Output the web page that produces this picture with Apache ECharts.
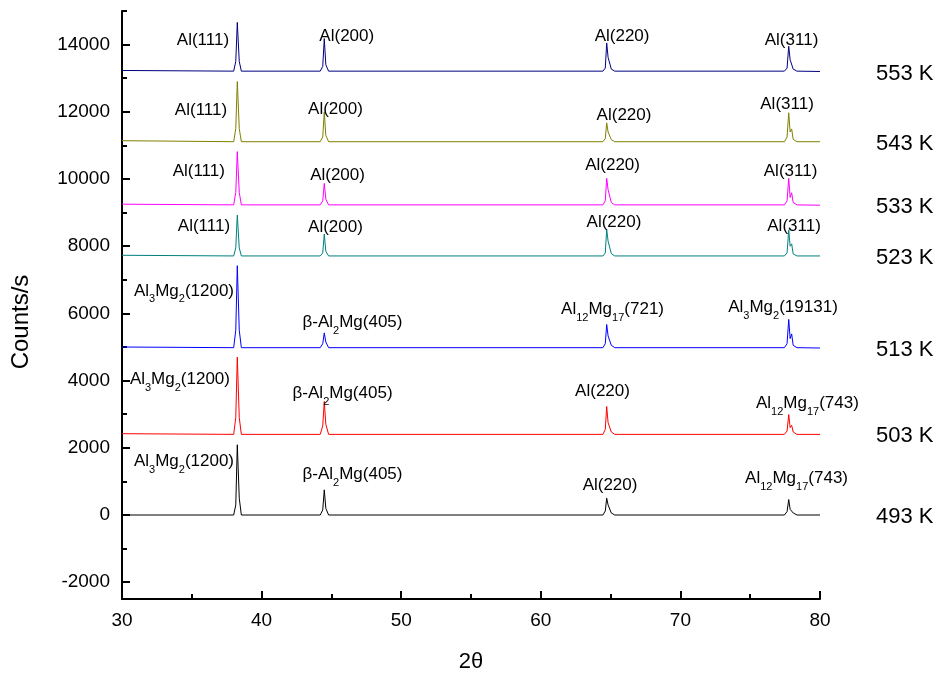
<!DOCTYPE html>
<html>
<head>
<meta charset="utf-8">
<script src="https://cdn.jsdelivr.net/npm/echarts@6/dist/echarts.min.js"></script>
<style>
  html, body { margin: 0; padding: 0; background: #fff; }
  #chart { width: 942px; height: 677px; }
</style>
</head>
<body>
<div id="chart"></div>
<script>
// 2theta positions shared by every pattern
var twoTheta = [30, 38.0, 38.15, 38.26, 38.4, 38.55, 44.2, 44.38, 44.49, 44.6, 44.8,
  64.45, 64.62, 64.72, 64.82, 64.9, 65.05, 65.3,
  77.45, 77.64, 77.76, 77.86, 77.97, 78.08, 78.35, 80];

// counts (already stacked)
var c493 = [0, 0, 300, 2090, 500, 0, 0, 150, 750, 200, 0,
  0, 120, 500, 300, 250, 60, 0,
  0, 100, 460, 170, 200, 60, 0, 0];
var c503 = [2420, 2400, 2900, 4700, 2900, 2400, 2400, 2650, 3380, 2700, 2400,
  2400, 2550, 3230, 2750, 2730, 2470, 2400,
  2400, 2500, 2990, 2600, 2670, 2470, 2400, 2400];
var c513 = [5000, 4980, 5500, 7420, 5500, 4980, 4980, 5100, 5420, 5150, 4980,
  4980, 5100, 5670, 5330, 5300, 5050, 4980,
  4980, 5100, 5820, 5250, 5390, 5050, 4980, 4970];
var c523 = [7730, 7710, 7950, 8925, 7950, 7710, 7710, 7800, 8360, 7850, 7710,
  7710, 7800, 8500, 8150, 8100, 7780, 7710,
  7710, 7800, 8480, 8000, 8070, 7770, 7710, 7710];
var c533 = [9250, 9230, 9600, 10815, 9600, 9230, 9230, 9350, 9870, 9400, 9230,
  9230, 9350, 10020, 9680, 9640, 9300, 9230,
  9230, 9350, 10020, 9450, 9590, 9300, 9230, 9220];
var c543 = [11140, 11110, 11500, 12900, 11500, 11110, 11110, 11250, 11990, 11300, 11110,
  11110, 11200, 11670, 11400, 11390, 11170, 11110,
  11110, 11250, 11970, 11400, 11490, 11180, 11110, 11110];
var c553 = [13230, 13210, 13500, 14660, 13500, 13210, 13210, 13350, 14180, 13400, 13210,
  13210, 13300, 14050, 13620, 13600, 13270, 13210,
  13210, 13300, 13950, 13550, 13580, 13270, 13210, 13200];

var temps = ['493 K', '503 K', '513 K', '523 K', '533 K', '543 K', '553 K'];
var colors = ['#000000', '#ff0000', '#0000ff', '#008080', '#ff00ff', '#808000', '#000080'];
var counts = [c493, c503, c513, c523, c533, c543, c553];

// peak names
var AL111 = '{n|Al(111)}';
var AL200 = '{n|Al(200)}';
var AL220 = '{n|Al(220)}';
var AL311 = '{n|Al(311)}';
var AL3MG2 = '{n|Al}{s|3}{n|Mg}{s|2}{n|(1200)}';
var BETA = '{n|β-Al}{s|2}{n|Mg(405)}';
var AL12MG17_721 = '{n|Al}{s|12}{n|Mg}{s|17}{n|(721)}';
var AL3MG2_19131 = '{n|Al}{s|3}{n|Mg}{s|2}{n|(19131)}';
var AL12MG17_743 = '{n|Al}{s|12}{n|Mg}{s|17}{n|(743)}';

// [2theta, counts, text] for the label of each peak
var peaks493 = [[34.44, 1590, AL3MG2], [46.51, 1210, BETA], [64.96, 870, AL220], [78.32, 1090, AL12MG17_743]];
var peaks503 = [[34.15, 4030, AL3MG2], [45.8, 3630, BETA], [64.42, 3680, AL220], [79.1, 3330, AL12MG17_743]];
var peaks513 = [[34.44, 6670, AL3MG2], [46.51, 5720, BETA], [65.14, 6120, AL12MG17_721], [77.35, 6170, AL3MG2_19131]];
var peaks523 = [[35.87, 8580, AL111], [45.29, 8560, AL200], [65.24, 8725, AL220], [78.14, 8580, AL311]];
var peaks533 = [[35.5, 10220, AL111], [45.44, 10100, AL200], [65.14, 10400, AL220], [77.89, 10230, AL311]];
var peaks543 = [[35.66, 12040, AL111], [45.29, 12060, AL200], [65.96, 11890, AL220], [77.64, 12210, AL311]];
var peaks553 = [[35.8, 14130, AL111], [46.1, 14250, AL200], [65.82, 14260, AL220], [77.96, 14130, AL311]];
var peakLabels = [peaks493, peaks503, peaks513, peaks523, peaks533, peaks543, peaks553];

var yMajor = [-2000, 0, 2000, 4000, 6000, 8000, 10000, 12000, 14000];
var yMinor = [-1000, 1000, 3000, 5000, 7000, 9000, 11000, 13000, 15000];

var FONT = '"Liberation Sans", Arial, sans-serif';

var chart = echarts.init(document.getElementById('chart'));

var series = [];
for (var k = 0; k < temps.length; k++) {
  var ys = counts[k];
  series.push({
    name: temps[k],
    type: 'line',
    showSymbol: false,
    data: twoTheta.map(function (x, i) { return [x, ys[i]]; }),
    lineStyle: { color: colors[k], width: 1 },
    itemStyle: { color: colors[k] },
    endLabel: {
      show: true,
      formatter: '{a}',
      distance: 56,
      offset: [0, 2],
      color: '#000',
      fontSize: 22,
      fontFamily: FONT
    },
    markPoint: {
      silent: true,
      symbol: 'circle',
      symbolSize: 0,
      label: {
        show: true,
        position: 'inside',
        color: '#000',
        fontFamily: FONT,
        rich: {
          n: { fontSize: 17, lineHeight: 28, fontFamily: FONT, color: '#000' },
          s: { fontSize: 11, verticalAlign: 'bottom', fontFamily: FONT, color: '#000' }
        }
      },
      data: peakLabels[k].map(function (p) {
        return { coord: [p[0], p[1]], value: p[2], label: { formatter: p[2] } };
      })
    }
  });
}

chart.setOption({
  animation: false,
  backgroundColor: '#fff',
  grid: { left: 122, right: 122, top: 11, bottom: 78, containLabel: false, outerBoundsMode: 'none' },
  graphic: [{
    type: 'text',
    x: 21,
    y: 322,
    rotation: Math.PI / 2,
    style: {
      text: 'Counts/s',
      fontSize: 24,
      fontFamily: FONT,
      fill: '#000',
      align: 'center',
      verticalAlign: 'middle'
    }
  }],
  xAxis: {
    type: 'value',
    min: 30,
    max: 80,
    interval: 10,
    name: '2θ',
    nameLocation: 'middle',
    nameGap: 52,
    nameTextStyle: { fontSize: 22, color: '#000', fontFamily: FONT },
    axisLine: { onZero: false, lineStyle: { color: '#000', width: 2 } },
    axisTick: { inside: true, length: 8, lineStyle: { color: '#000', width: 2 } },
    minorTick: { show: true, splitNumber: 2, length: 5, lineStyle: { color: '#000', width: 2 } },
    axisLabel: { fontSize: 19, color: '#000', margin: 12, fontFamily: FONT },
    splitLine: { show: false }
  },
  yAxis: [
    {
      type: 'value',
      min: -2500,
      max: 15000,
      axisLine: { show: true, lineStyle: { color: '#000', width: 2 } },
      axisTick: { show: true, inside: true, length: 8, customValues: yMajor, lineStyle: { color: '#000', width: 2 } },
      axisLabel: {
        fontSize: 19, color: '#000', margin: 12, customValues: yMajor, fontFamily: FONT,
        formatter: function (v) { return String(v); }
      },
      splitLine: { show: false }
    },
    {
      type: 'value',
      min: -2500,
      max: 15000,
      position: 'left',
      axisLine: { show: false },
      axisTick: { show: true, inside: true, length: 5, customValues: yMinor, lineStyle: { color: '#000', width: 2 } },
      axisLabel: { show: false },
      splitLine: { show: false }
    }
  ],
  series: series
});
</script>
</body>
</html>
